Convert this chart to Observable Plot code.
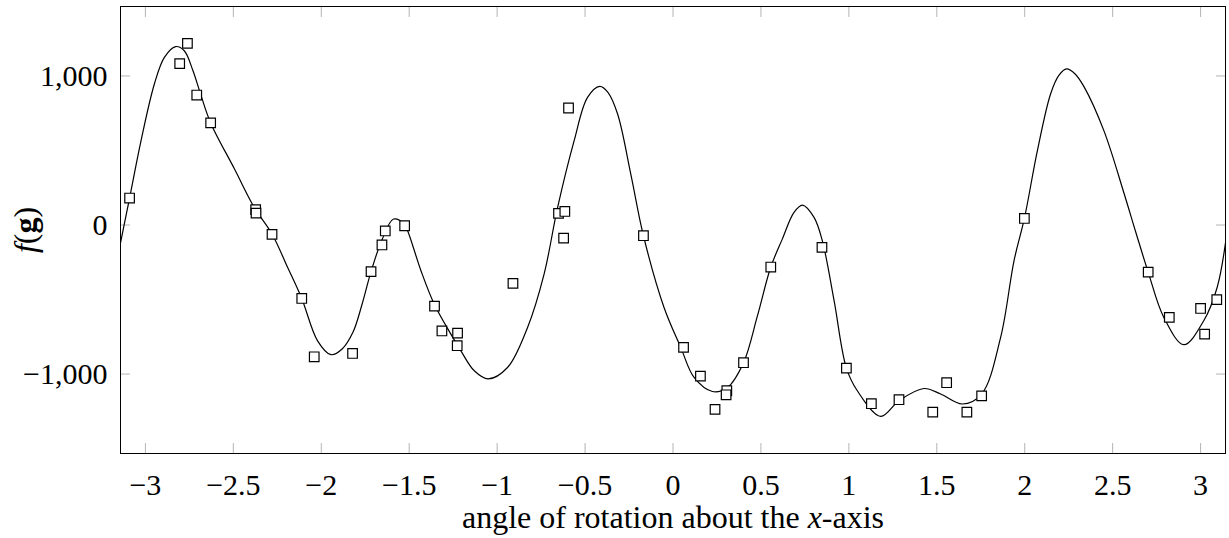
<!DOCTYPE html>
<html><head><meta charset="utf-8">
<script src="https://cdn.jsdelivr.net/npm/d3@7"></script>
<script src="https://cdn.jsdelivr.net/npm/@observablehq/plot@0.6"></script>
<style>body{margin:0;background:#fff}</style>
</head><body><div id="chart"></div>
<script>
// fitted curve
const curveX = [-3.1416,-3.09,-3.025,-2.949,-2.892,-2.828,-2.779,-2.731,-2.684,-2.629,-2.494,-2.381,-2.280,-2.191,-2.111,-2.021,-1.945,-1.880,-1.820,-1.770,-1.717,-1.655,-1.589,-1.530,-1.509,-1.433,-1.358,-1.263,-1.206,-1.130,-1.051,-0.941,-0.827,-0.733,-0.656,-0.562,-0.486,-0.416,-0.370,-0.315,-0.240,-0.168,-0.051,0.044,0.120,0.224,0.310,0.401,0.480,0.556,0.622,0.688,0.736,0.802,0.849,0.916,0.986,1.048,1.181,1.285,1.427,1.522,1.645,1.755,1.863,1.939,1.998,2.072,2.147,2.195,2.238,2.285,2.336,2.450,2.564,2.632,2.702,2.791,2.905,3.018,3.094,3.1416];
const curveY = [-120,181,565,946,1125,1197,1169,1040,870,685,377,118,-60,-285,-493,-777,-870,-830,-720,-540,-313,-100,40,10,-38,-307,-530,-732,-844,-978,-1032,-956,-687,-329,118,566,856,930,890,745,342,-72,-553,-821,-1023,-1117,-1090,-924,-610,-282,-93,85,134,51,-105,-508,-960,-1112,-1284,-1179,-1097,-1134,-1201,-1134,-754,-240,44,499,879,1005,1047,1015,930,633,215,-50,-316,-620,-803,-642,-419,-120];
// observed samples
const sampleX = [-3.09,-2.761,-2.805,-2.708,-2.629,-2.373,-2.371,-2.280,-2.111,-2.040,-1.822,-1.717,-1.655,-1.636,-1.526,-1.356,-1.314,-1.225,-1.227,-0.910,-0.651,-0.615,-0.622,-0.594,-0.168,0.060,0.156,0.239,0.306,0.302,0.401,0.556,0.847,0.986,1.128,1.285,1.477,1.556,1.671,1.755,1.998,2.702,2.822,3.000,3.023,3.092];
const sampleY = [181,1219,1083,872,685,103,80,-63,-493,-884,-862,-313,-134,-40,-5,-544,-711,-725,-810,-392,78,91,-88,785,-72,-821,-1014,-1237,-1112,-1139,-924,-282,-150,-960,-1199,-1172,-1255,-1058,-1255,-1146,44,-316,-620,-560,-732,-501];
const xTicks = [-3,-2.5,-2,-1.5,-1,-0.5,0,0.5,1,1.5,2,2.5,3];
const yTicks = [-1000,0,1000];

const curve = curveX.map((x,i)=>({x, y: curveY[i]}));
const samples = sampleX.map((x,i)=>({x, y: sampleY[i]}));
const tickColor = "#b4b4b4";

const plot = Plot.plot({
  width: 1229, height: 538,
  marginLeft: 120, marginRight: 4, marginTop: 6, marginBottom: 85,
  style: {fontFamily: "'Liberation Serif', serif", fontSize: "30px", background: "white", color: "black"},
  x: {domain: [-Math.PI, Math.PI]},
  y: {domain: [-1533, 1466]},
  marks: [
    Plot.axisX(xTicks, {anchor: "bottom", tickSize: -10, stroke: tickColor, tickFormat: () => "", label: null}),
    Plot.axisX(xTicks, {anchor: "top", tickSize: -10, stroke: tickColor, tickFormat: () => "", label: null}),
    Plot.axisY(yTicks, {anchor: "left", tickSize: -10, stroke: tickColor, tickFormat: () => "", label: null}),
    Plot.axisY(yTicks, {anchor: "right", tickSize: -10, stroke: tickColor, tickFormat: () => "", label: null}),
    Plot.axisX(xTicks, {anchor: "bottom", tickSize: 0, tickPadding: 20, tickFormat: d => d3.format("")(d),
      label: "angle of rotation about the x-axis", labelAnchor: "center", labelOffset: 74, labelArrow: "none"}),
    Plot.axisY(yTicks, {anchor: "left", tickSize: 0, tickPadding: 13, tickFormat: d3.format(","),
      label: "f(g)", labelAnchor: "center", labelOffset: 107, labelArrow: "none"}),
    Plot.frame({stroke: "black", strokeWidth: 1}),
    Plot.line(curve, {x: "x", y: "y", curve: "catmull-rom", stroke: "black", strokeWidth: 1.2}),
    Plot.dot(samples, {x: "x", y: "y", symbol: "square", r: 5.4, fill: "white", stroke: "black", strokeWidth: 1.2})
  ]
});
document.getElementById("chart").appendChild(plot);

const xl = plot.querySelector('g[aria-label="x-axis label"] text');
if (xl) { xl.innerHTML = 'angle of rotation about the <tspan font-style="italic">x</tspan>-axis'; xl.setAttribute("font-size", "32"); }
const yl = plot.querySelector('g[aria-label="y-axis label"] text');
if (yl) { yl.innerHTML = '<tspan font-style="italic">f</tspan>(<tspan font-weight="bold">g</tspan>)'; yl.setAttribute("font-size", "32"); }
</script>
</body></html>
